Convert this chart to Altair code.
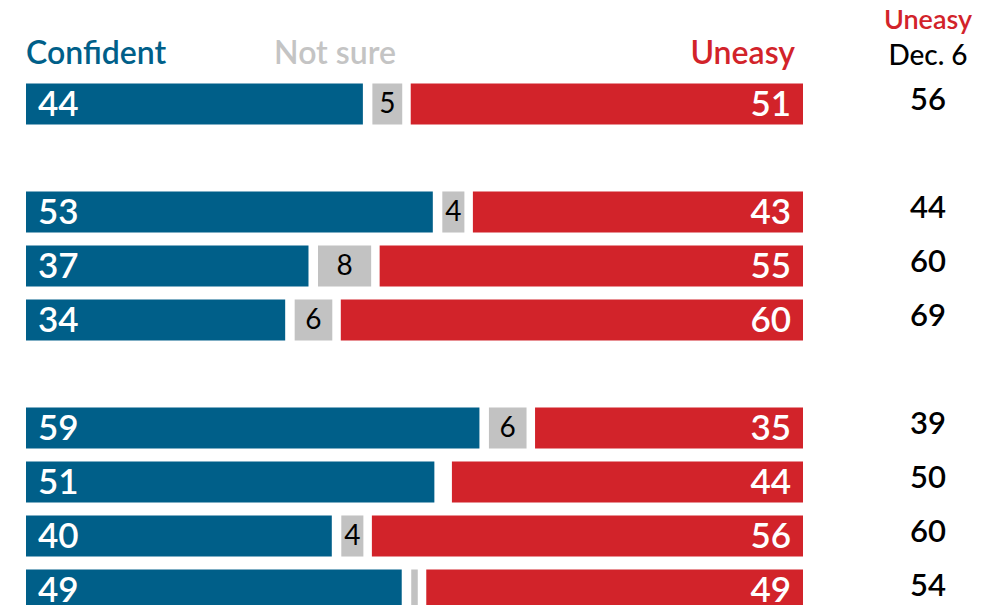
import altair as alt
import pandas as pd

# ---- data ----
slots = [0, 2, 3, 4, 6, 7, 8, 9]            # row positions (empty slots 1 and 5 are gaps)
confident = [44, 53, 37, 34, 59, 51, 40, 49]  # printed labels
not_sure = [5, 4, 8, 6, 6, 5, 4, 2]
uneasy = [51, 43, 55, 60, 35, 44, 56, 49]
uneasy_dec6 = [56, 44, 60, 69, 39, 50, 60, 54]

# bar lengths as drawn (row with "51/44" is drawn longer than its labels)
confident_bar = [44, 53, 37, 34, 59, 53.2, 40, 49]
not_sure_bar = [5, 4, 8, 6, 6, 1.1, 4, 2]
uneasy_bar = [51, 43, 55, 60, 35, 45.7, 56, 49]
not_sure_label = ["5", "4", "8", "6", "6", "", "4", ""]

BLUE = "#005f89"
RED = "#d2232a"
GRAY = "#c2c2c2"
GRAY_TXT = "#c4c4c4"
FONT = "Lato"

rows = []
for i, s in enumerate(slots):
    c1 = confident_bar[i]
    c2 = c1 + not_sure_bar[i]
    rows.append(dict(
        slot=s, c0=0, c1=c1, c2=c2, c3=c2 + uneasy_bar[i],
        conf=str(confident[i]), uneasy=str(uneasy[i]),
        ns_label=not_sure_label[i], ns_mid=(c1 + c2) / 2,
        ns_show=not_sure_bar[i] >= 1.5,
        dec6=str(uneasy_dec6[i]),
    ))
df = pd.DataFrame(rows)

y = alt.Y("slot:O", axis=None,
          scale=alt.Scale(domain=list(range(10)), paddingInner=0.24, paddingOuter=0.12))
xs = alt.Scale(domain=[0, 100])

base = alt.Chart(df)

blue = base.mark_bar(color=BLUE, x2Offset=-5).encode(
    x=alt.X("c0:Q", scale=xs, axis=None), x2="c1:Q", y=y)
gray = base.transform_filter("datum.ns_show").mark_bar(
    color=GRAY, xOffset=4.5, x2Offset=-4.5).encode(
    x=alt.X("c1:Q", scale=xs, axis=None), x2="c2:Q", y=y)
red = base.mark_bar(color=RED, xOffset=4).encode(
    x=alt.X("c2:Q", scale=xs, axis=None), x2="c3:Q", y=y)

conf_txt = base.mark_text(align="left", baseline="middle", dx=12, dy=1,
                          font=FONT, fontSize=35, fontWeight=600, color="white").encode(
    x=alt.X("c0:Q", scale=xs, axis=None), y=y, text="conf:N")
unea_txt = base.mark_text(align="right", baseline="middle", dx=-12, dy=1,
                          font=FONT, fontSize=35, fontWeight=600, color="white").encode(
    x=alt.X("c3:Q", scale=xs, axis=None), y=y, text="uneasy:N")
ns_txt = base.mark_text(align="center", baseline="middle", dy=1,
                        font=FONT, fontSize=28, fontWeight=400, color="black").encode(
    x=alt.X("ns_mid:Q", scale=xs, axis=None), y=y, text="ns_label:N")
dec_txt = base.mark_text(align="center", baseline="middle", dy=-3,
                         font=FONT, fontSize=31, fontWeight=600, color="black").encode(
    x=alt.value(902), y=y, text="dec6:N")

# headers
h_text = ["Confident", "Not sure", "Uneasy"]
h_color = [BLUE, GRAY_TXT, RED]
h_align = ["left", "center", "right"]
h_x = [0, 309, 769]
headers = []
for t, c, a, xx in zip(h_text, h_color, h_align, h_x):
    headers.append(
        alt.Chart(pd.DataFrame({"t": [t]})).mark_text(
            align=a, baseline="alphabetic", font=FONT, fontSize=32, fontWeight=600, color=c
        ).encode(x=alt.value(xx), y=alt.value(-13), text="t:N"))

hd1 = alt.Chart(pd.DataFrame({"t": ["Uneasy"]})).mark_text(
    align="center", baseline="alphabetic", font=FONT, fontSize=27, fontWeight=600, color=RED
).encode(x=alt.value(902), y=alt.value(-48), text="t:N")
hd2 = alt.Chart(pd.DataFrame({"t": ["Dec. 6"]})).mark_text(
    align="center", baseline="alphabetic", font=FONT, fontSize=28, fontWeight=500, color="black"
).encode(x=alt.value(902), y=alt.value(-12), text="t:N")

chart = alt.layer(blue, gray, red, conf_txt, unea_txt, ns_txt, dec_txt, *headers, hd1, hd2).properties(
    width=777, height=540,
    autosize=alt.AutoSizeParams(type="none"),
    padding={"left": 18, "top": 69, "right": 180, "bottom": 0},
).configure_view(stroke=None)

chart.save("out.html", embed_options={"renderer": "svg", "actions": False})
